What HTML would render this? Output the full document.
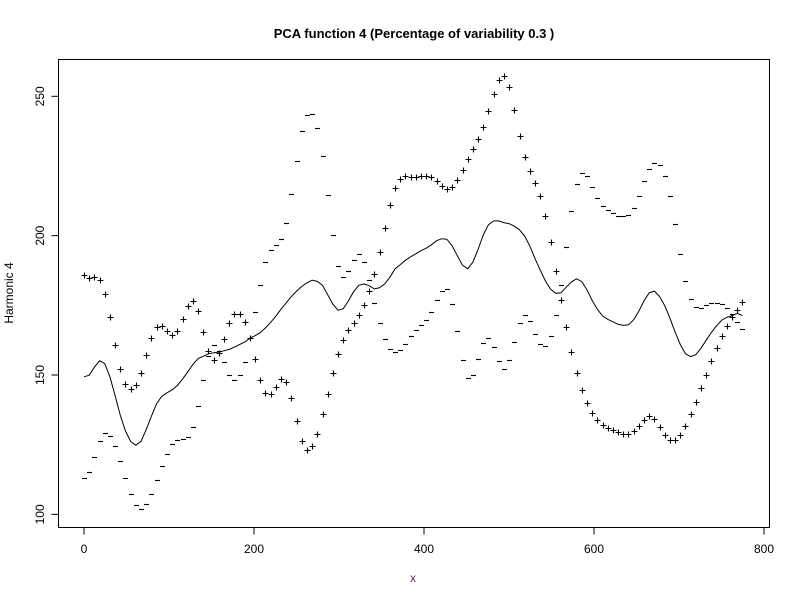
<!DOCTYPE html>
<html><head><meta charset="utf-8"><style>body{margin:0;background:#fff}svg{display:block}text{font-family:"Liberation Sans",Arial,sans-serif}</style></head>
<body>
<svg id="chart" width="800" height="600" xmlns="http://www.w3.org/2000/svg">
<rect width="800" height="600" fill="#fff"/>
<text x="414" y="38" text-anchor="middle" font-size="13" font-weight="bold">PCA function 4 (Percentage of variability 0.3 )</text>
<text x="413" y="582" text-anchor="middle" font-size="12" fill="#5a2a6a">x</text>
<text transform="translate(13,293) rotate(-90)" text-anchor="middle" font-size="12">Harmonic 4</text>
<rect x="58.5" y="59.5" width="711" height="468" fill="none" stroke="#000"/>
<g id="axes"></g>
<g id="marks"></g>
</svg>
<script>
const xTicks=[0,200,400,600,800];
const yTicks=[100,150,200,250];
const xStep=6.1;
const plusVals=[185.8,184.7,185.1,184.0,179.0,170.7,160.7,152.0,146.7,144.9,146.3,150.6,157.1,163.2,167.1,167.5,165.7,164.3,165.7,170.0,174.6,176.4,172.9,165.3,158.5,155.3,157.8,162.8,168.5,171.8,171.8,168.9,163.2,155.6,148.1,143.4,143.1,145.6,148.5,147.4,141.6,133.4,126.2,123.0,124.4,128.7,135.9,143.1,150.6,157.4,162.5,166.0,168.5,171.4,175.0,180.0,186.1,194.0,202.6,210.9,217.0,220.2,221.3,220.9,220.9,221.3,221.3,220.9,219.5,217.7,216.6,217.3,219.9,223.4,227.4,231.0,234.6,238.9,244.6,250.7,255.7,257.2,253.2,245.0,235.6,228.1,223.1,218.8,214.1,207.1,197.6,187.2,176.8,167.1,158.1,150.6,144.5,139.8,136.3,133.7,131.9,130.9,130.2,129.4,128.7,128.7,129.8,131.6,133.7,135.2,134.1,131.2,128.4,126.6,126.6,128.4,131.6,135.9,140.2,145.2,149.9,154.9,159.6,163.9,167.5,170.7,173.2,176.1];
const minusVals=[113.0,115.1,120.5,126.2,129.1,128.0,124.4,119.0,113.0,107.2,103.3,101.8,103.6,107.2,112.2,117.2,121.5,125.1,126.6,126.9,127.6,131.2,138.8,148.1,156.7,160.7,158.5,154.6,149.9,148.1,149.9,154.6,163.2,172.5,182.2,190.4,194.7,196.5,198.7,204.4,214.8,226.7,237.4,243.2,243.5,238.5,228.5,214.5,200.1,189.0,185.1,187.2,191.2,193.3,190.4,184.0,175.7,168.5,162.8,159.2,158.1,158.9,161.0,163.9,166.0,167.8,169.6,172.5,176.8,180.0,180.8,175.4,165.7,155.3,148.8,149.9,155.6,161.4,163.2,159.9,154.9,152.0,155.3,161.7,168.5,171.4,169.3,164.6,161.0,160.3,163.9,171.4,182.2,195.8,208.7,218.4,222.4,221.3,217.3,213.4,210.5,209.1,208.0,206.9,206.9,207.3,209.8,214.1,219.5,223.8,226.0,225.2,221.3,214.1,204.1,193.3,183.6,177.2,174.3,173.9,175.0,175.7,175.7,175.4,173.9,171.8,168.9,166.4];
const meanVals=[149.4,149.9,152.8,155.1,154.1,149.4,142.6,135.5,129.9,126.1,124.8,126.2,130.4,135.2,139.7,142.4,143.6,144.7,146.2,148.5,151.1,153.8,155.9,156.7,157.6,158.0,158.2,158.7,159.2,160.0,160.9,161.8,163.2,164.1,165.2,166.9,168.9,171.1,173.6,175.9,178.2,180.1,181.8,183.1,184.0,183.6,182.2,178.8,175.4,173.2,173.8,176.6,179.9,182.2,182.7,182.0,180.9,181.3,182.7,185.1,188.1,189.6,191.2,192.4,193.5,194.6,195.5,196.7,198.2,198.9,198.7,196.4,192.8,189.4,188.1,190.5,195.1,200.2,203.9,205.3,205.3,204.6,204.3,203.4,202.1,199.8,196.2,191.7,187.6,183.7,180.8,179.3,179.5,181.5,183.4,184.5,183.5,180.6,176.8,173.6,171.2,170.0,169.1,168.2,167.8,168.0,169.8,172.9,176.6,179.5,180.1,178.2,174.9,170.4,165.4,160.9,157.6,156.6,157.3,159.6,162.5,165.3,167.7,169.7,170.7,171.3,172.1,171.3];

const NS='http://www.w3.org/2000/svg';
function sx(v){return 84+v*0.85;}
function sy(v){return 375-(v-150)*2.787;}
function mk(tag,attrs,parent){const e=document.createElementNS(NS,tag);for(const k in attrs)e.setAttribute(k,attrs[k]);parent.appendChild(e);return e;}
const axes=document.getElementById('axes');
const marks=document.getElementById('marks');
xTicks.forEach(t=>{
  const x=sx(t);
  const l=mk('line',{x1:x,y1:527.5,x2:x,y2:534.5,stroke:'#000'},axes);
  
  
  const tx=mk('text',{x:x,y:553,'text-anchor':'middle','font-size':12},axes);
  tx.textContent=t;
  
  
});
yTicks.forEach(t=>{
  const y=sy(t);
  const l=mk('line',{x1:51.5,y1:y,x2:58.5,y2:y,stroke:'#000'},axes);
  
  
  const tx=mk('text',{transform:'translate(44,'+y+') rotate(-90)','text-anchor':'middle','font-size':12},axes);
  tx.textContent=t;
  
  
});
let d='';
meanVals.forEach((v,i)=>{d+=(i?'L':'M')+sx(i*xStep).toFixed(1)+' '+sy(v).toFixed(1);});
const path=mk('path',{d:d,fill:'none',stroke:'#000','stroke-width':1},marks);


plusVals.forEach((v,i)=>{
  const x=Math.round(sx(i*xStep))+0.5,y=Math.round(sy(v))+0.5;
  const p=mk('path',{d:'M'+(x-3)+' '+y+'H'+(x+3)+'M'+x+' '+(y-3)+'V'+(y+3),stroke:'#000','stroke-width':1.1},marks);
  
  
});
minusVals.forEach((v,i)=>{
  const x=Math.round(sx(i*xStep))+0.5,y=Math.round(sy(v))+0.5;
  const p=mk('path',{d:'M'+(x-2.5)+' '+y+'H'+(x+2.5),stroke:'#000','stroke-width':1.1},marks);
  
  
});
</script>
</body></html>
